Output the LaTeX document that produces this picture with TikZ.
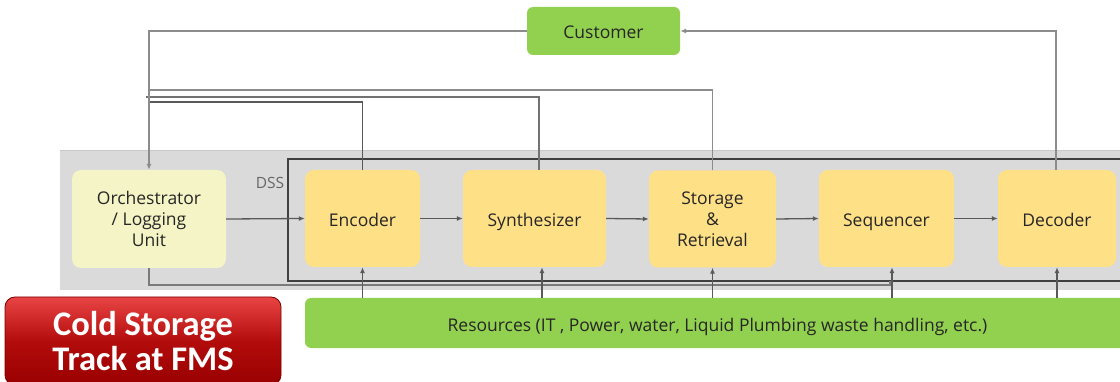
\documentclass[tikz,border=0pt]{standalone}
\usepackage{fontspec}
\setmainfont{Open Sans}
\newfontfamily\btnfont{Carlito}
\usetikzlibrary{arrows.meta,calc}
\definecolor{boxgreen}{HTML}{92D050}
\definecolor{boxyellow}{HTML}{FEE087}
\definecolor{orchyellow}{HTML}{F5F4C6}
\definecolor{dssgray}{HTML}{DADADA}
\definecolor{dssedge}{HTML}{C9C9C9}
\definecolor{frame}{HTML}{404040}
\definecolor{wire}{HTML}{595959}
\definecolor{wirelight}{HTML}{8C8C8C}
\definecolor{btntop}{HTML}{E94444}
\definecolor{btnmid}{HTML}{B30C0C}
\definecolor{btnbot}{HTML}{990000}
\tikzset{
  block/.style={rounded corners=9pt, fill=boxyellow, draw=none, align=center,
    font=\fontsize{17.5}{21}\selectfont, text=black!85, inner sep=0pt},
  single/.style={text height=19pt, text depth=3pt},
  greenbox/.style={rounded corners=6pt, fill=boxgreen, draw=none, align=center,
    font=\fontsize{17.5}{21}\selectfont, text=black!85, inner sep=0pt},
  flow/.style={draw=wire, line width=1.3pt, -{Latex[length=6pt,width=5pt]}},
  loop/.style={draw=wirelight, line width=1.4pt},
}
\begin{document}
\begin{tikzpicture}[x=1pt,y=-1pt]
\useasboundingbox (0,0) rectangle (1120,382);
\clip (0,0) rectangle (1120,382);

% DSS area
\fill[dssgray] (60,150) rectangle (1130,290);
\draw[dssedge, line width=1pt] (60,150.5) -- (1130,150.5);
\draw[frame, line width=2.8pt] (1130,159) -- (288,159) -- (288,281) -- (1130,281);
\node[text=black!60, font=\fontsize{15.5}{18}\selectfont] (dss) at (270,183) {DSS};

% blocks
\node[greenbox, single, minimum width=153pt, minimum height=48pt] (cust) at (603.5,31) {Customer};
\node[block, fill=orchyellow, minimum width=154pt, minimum height=98pt] (orch) at (149,219)
  {Orchestrator\\/ Logging\\Unit};
\node[block, single, minimum width=115pt, minimum height=97pt] (enc) at (362.5,218.5) {Encoder};
\node[block, single, minimum width=143pt, minimum height=97pt] (syn) at (534.5,218.5) {Synthesizer};
\node[block, minimum width=127pt, minimum height=97pt] (sto) at (712.5,219) {Storage\\\&\\Retrieval};
\node[block, single, minimum width=135pt, minimum height=97pt] (seq) at (886.5,218.5) {Sequencer};
\node[block, single, minimum width=118pt, minimum height=97pt] (dec) at (1057,218.5) {Decoder};
\node[greenbox, single, minimum width=825pt, minimum height=50pt] (res) at (717.5,323)
  {Resources (IT , Power, water, Liquid Plumbing waste handling, etc.)};

% track badge
\node[rounded corners=10pt, draw=btnbot!80!black, line width=0.8pt,
  top color=btntop, bottom color=btnbot, middle color=btnmid,
  minimum width=276pt, minimum height=88pt, inner sep=0pt, align=center,
  text=white, font=\btnfont\bfseries\fontsize{34.5}{35}\selectfont] (badge) at (143,341)
  {Cold Storage\\Track at FMS};

% main pipeline
\draw[flow] (orch.east) -- (enc.west);
\draw[flow] (enc.east) -- (syn.west);
\draw[flow] (syn.east) -- (sto.west);
\draw[flow] (sto.east) -- (seq.west);
\draw[flow] (seq.east) -- (dec.west);

% feedback wires to the orchestrator
\draw[loop, draw=wirelight] (sto.north) |- (149,90);
\draw[loop, draw=wire!85, line width=1.6pt] ([xshift=4.5pt]syn.north) |- (146,97);
\draw[loop, draw=wire, line width=1.6pt] (enc.north) |- (149,102);
\draw[loop, -{Latex[length=6pt,width=5pt]}] (cust.west) -| (orch.north);
\draw[loop, -{Latex[length=6pt,width=5pt]}] ([xshift=-1pt]dec.north) |- (cust.east);

% orchestrator control to the sequencer
\draw[loop, draw=wire!80, line width=1.3pt] (orch.south) |- (890,285) -- (890,281);

% resources feeding every stage
\foreach \n/\dx in {enc/0, syn/7.5, sto/0, seq/5.5, dec/0}
  \draw[flow, line width=1.2pt] ([xshift=\dx pt]res.north -| \n.south) -- ([xshift=\dx pt]\n.south);
\end{tikzpicture}
\end{document}
